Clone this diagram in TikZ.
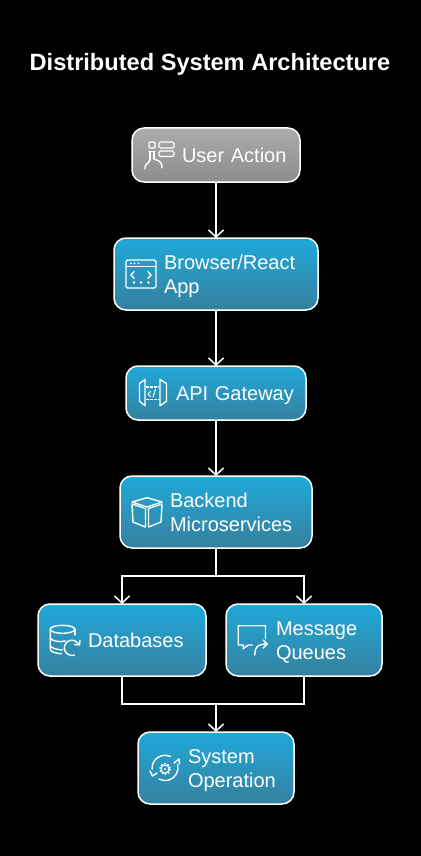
\documentclass[tikz,border=0pt]{standalone}
\usepackage{fontspec}
\setmainfont{Liberation Sans}
\usetikzlibrary{arrows.meta, positioning}

\definecolor{boxtop}{HTML}{20A9DA}
\definecolor{boxbot}{HTML}{35809E}

\tikzset{
	icon/.style={draw=white, line width=1.4pt, line join=round, line cap=round},
	usericon/.pic={
		\draw[icon, rounded corners=1pt] (-9,-13) rectangle (-3,-7);
		\draw[icon, rounded corners=1.5pt] (1,-13) rectangle (16,-7);
		\draw[icon, rounded corners=1.5pt] (1,-4) rectangle (16,1.5);
		\draw[icon] (-3,-3.5) -- (-9,-3.5) (-8,-3.5) -- (-8,5);
		\draw[icon] (-4,-3.5) -- (-4,4);
		\draw[icon] (-13,14) .. controls (-14,10) and (-10,9) .. (-8,5) (-4,4) -- (1,6) .. controls (3,7) and (4,9) .. (4,13);
	},
	browsericon/.pic={
		\draw[icon, rounded corners=1.5pt] (-15,-14) rectangle (15,14);
		\draw[icon] (-15,-7.3) -- (15,-7.3);
		\foreach \dotx in {-10,-6.5,-2.5} \fill[white] (\dotx,-10.6) circle (1);
		\foreach \dotx in {-7,0,7.5} \fill[white] (\dotx,8.5) circle (1.3);
		\draw[icon] (-7,-2.3) -- (-10,1) -- (-7,4.3) (7,-2.3) -- (10,1) -- (7,4.3);
	},
	apiicon/.pic={
		\draw[icon] (-13,-9.5) -- (-7.5,-13.5) -- (-7.5,12.7) -- (-13,8.3) -- cycle;
		\draw[icon] (7.5,-13.5) -- (14,-9.5) -- (14,8.3) -- (7.5,12.7) -- cycle;
		\draw[icon, dash pattern=on 2pt off 2pt] (-6,-6) -- (6,-6) (-6,6.5) -- (6,6.5);
		\draw[icon, line width=1pt] (-2,-1.5) -- (-4.5,1) -- (-2,3.5) (3,-3.5) -- (0.5,4);
	},
	cubeicon/.pic={
		\draw[icon] (-15,-10) -- (0,-14.3) -- (15,-10) -- (0,-5) -- cycle;
		\draw[icon] (-15,-8) -- (-14,10) -- (-1.5,15) -- (-1.5,-3.5) -- cycle;
		\draw[icon] (15,-8) -- (14,10) -- (1.5,15) -- (1.5,-3.5) -- cycle;
	},
	dbicon/.pic={
		\draw[icon] (-2,-10.7) ellipse [x radius=12.3, y radius=4];
		\draw[icon] (-14.3,-10.7) -- (-14.3,9) .. controls (-14.3,12) and (-8,13.5) .. (-3,13.7);
		\draw[icon] (10.3,-10.7) -- (10.3,-5);
		\draw[icon] (-14.3,-2) .. controls (-13,1) and (-5,2.5) .. (1,1);
		\draw[icon] (-14.3,6) .. controls (-13,8) and (-8,9.5) .. (-2,10);
		\draw[icon] (14,4) arc [start angle=-30, end angle=-290, radius=7.6];
		\draw[icon] (15.5,0) -- (15,5) -- (10,4.5);
	},
	msgicon/.pic={
		\draw[icon] (13,-1.7) -- (13,-14.3) -- (-14.3,-14.3) -- (-14.3,5) -- (-9.3,5) -- (-9.3,8.7) -- (-4.3,5) -- (0,5);
		\draw[icon] (2.3,15) .. controls (2.3,8) and (4,4) .. (14.7,4);
		\draw[icon] (10.7,0) -- (14.7,4) -- (10.7,8);
	},
	sysicon/.pic={
		\draw[icon] (5.5,-11.5) arc [start angle=-64, end angle=-185, radius=12.8];
		\draw[icon] (-15,3) -- (-12.5,8) -- (-8,5);
		\draw[icon] (-6,11) arc [start angle=119, end angle=-15, radius=12.8];
		\draw[icon] (9,-5) -- (14,-9) -- (14.5,-4);
		\draw[icon, line width=1pt] (0,1) circle (4);
		\draw[icon, line width=2pt, line cap=butt, dash pattern=on 1.6pt off 1.55pt] (0,1) circle (5);
		\fill[white] (0,1) circle (1.2);
	}
}

\begin{document}
\begin{tikzpicture}[
		x=1pt, y=-1pt,
		block/.style={rectangle, draw=white, line width=1.5pt, rounded corners=12pt, align=left,
			minimum width=#1, text width=#1, text height=14pt, text depth=0pt,
			inner xsep=0pt, inner ysep=0pt, outer sep=0pt,
			top color=boxtop, bottom color=boxbot, text=white,
			font=\fontsize{20}{24}\selectfont, execute at begin node={\leftskip=50pt}},
		twoline/.style={text depth=24pt},
		arr/.style={-{Straight Barb[length=7pt, width=15pt]}, line width=1.5pt, draw=white},
		link/.style={line width=1.5pt, draw=white}
	]
	\useasboundingbox (0,0) rectangle (420,856);
	\fill[black] (-3,-3) rectangle (423,859);
	\node[text=white, font=\fontsize{23.6}{28}\selectfont\bfseries] (title) at (210,64) {Distributed System Architecture};

	\node[block=168pt, minimum height=54pt, top color=gray!65, bottom color=gray!90] (user) at (216,155) {User Action};
	\node[block=204pt, twoline, minimum height=72pt, below=56pt of user] (browser) {Browser/React\\App};
	\node[block=180pt, minimum height=54pt, below=56pt of browser] (api) {API Gateway};
	\node[block=192pt, twoline, minimum height=72pt, below=56pt of api] (backend) {Backend\\Microservices};
	\node[block=168pt, minimum height=72pt, below=56pt of backend, xshift=-94pt] (db) {Databases};
	\node[block=156pt, twoline, minimum height=72pt, below=56pt of backend, xshift=88pt] (msg) {Message\\Queues};
	\node[block=156pt, twoline, minimum height=72pt, below=56pt of db, xshift=94pt] (sys) {System\\Operation};

	\pic at ([xshift=26pt]user.west) {usericon};
	\pic at ([xshift=27pt]browser.west) {browsericon};
	\pic at ([xshift=26.5pt]api.west) {apiicon};
	\pic at ([xshift=27pt]backend.west) {cubeicon};
	\pic at ([xshift=26.5pt]db.west) {dbicon};
	\pic at ([xshift=26.5pt]msg.west) {msgicon};
	\pic at ([xshift=27pt]sys.west) {sysicon};

	\coordinate (split) at ([yshift=-28pt]backend.south);
	\coordinate (merge) at ([yshift=28pt]sys.north);

	\draw[arr] (user) -- (browser);
	\draw[arr] (browser) -- (api);
	\draw[arr] (api) -- (backend);
	\draw[link] (backend) -- (split);
	\draw[arr] (split) -| (db.north);
	\draw[arr] (split) -| (msg.north);
	\draw[link] (db.south) |- (merge);
	\draw[link] (msg.south) |- (merge);
	\draw[arr] (merge) -- (sys);
\end{tikzpicture}
\end{document}
